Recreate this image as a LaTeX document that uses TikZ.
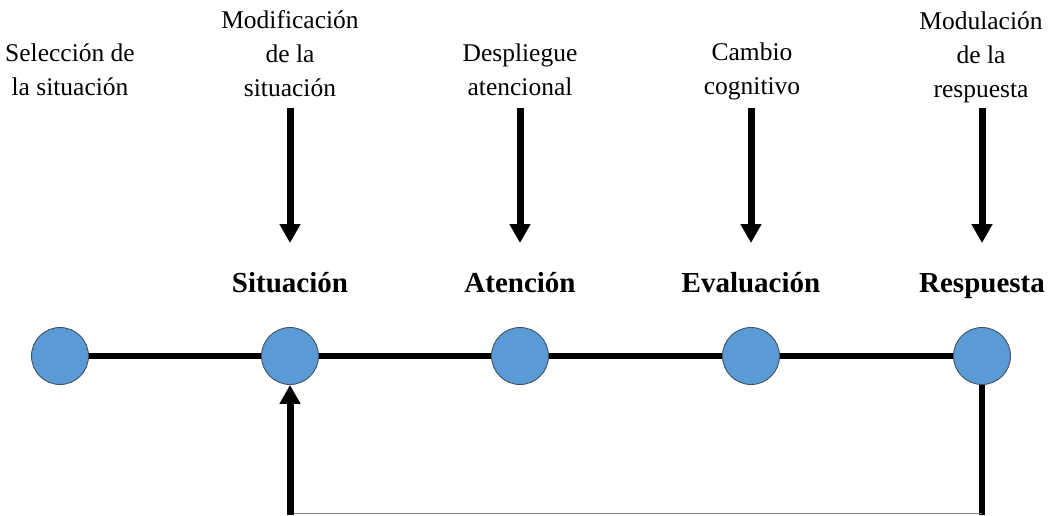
\documentclass[tikz,border=0pt]{standalone}
\usepackage{fontspec}
\setmainfont{Liberation Serif}
\usetikzlibrary{arrows.meta}
\definecolor{stageblue}{RGB}{91,155,213}
\definecolor{stageedge}{RGB}{65,80,95}
\begin{document}
\begin{tikzpicture}[x=1pt,y=-1pt,
  stage/.style={circle,minimum size=57pt,inner sep=0pt,fill=stageblue,draw=stageedge,line width=0.9pt},
  strategy/.style={align=center,font=\fontsize{25.5}{34}\selectfont,inner sep=0pt},
  phase/.style={anchor=base,font=\fontsize{29}{32}\selectfont\bfseries,inner sep=0pt},
  link/.style={line width=6.5pt},
  push/.style={line width=7pt,-{Triangle[width=20pt,length=19pt]}}]
\useasboundingbox (0,0) rectangle (1051,515);

% process stages
\node[stage] (c1) at (60,356) {};
\node[stage] (c2) at (290,356) {};
\node[stage] (c3) at (520,356) {};
\node[stage] (c4) at (751,356) {};
\node[stage] (c5) at (982,356) {};

% stage names
\node[phase] (p2) at (290,292) {Situación};
\node[phase] (p3) at (520,292) {Atención};
\node[phase] (p4) at (751,292) {Evaluación};
\node[phase] (p5) at (982,292) {Respuesta};

% regulation strategies
\node[strategy] (s1) at (70,70) {Selección de\\la situación};
\node[strategy] (s2) at (290,54) {Modificación\\de la\\situación};
\node[strategy] (s3) at (520,70) {Despliegue\\atencional};
\node[strategy] (s4) at (752,71) {Cambio\\cognitivo};
\node[strategy] (s5) at (981,57) {Modulación\\de la\\respuesta};

% timeline
\draw[link] (c1.east) -- (c2.west);
\draw[link] (c2.east) -- (c3.west);
\draw[link] (c3.east) -- (c4.west);
\draw[link] (c4.east) -- (c5.west);

% strategy arrows
\foreach \i/\x in {2/290,3/520,4/751,5/982}{
  \coordinate (t\i) at (\x,108);
  \coordinate (h\i) at (\x,243);
  \draw[push] (t\i) -- (h\i);
}

% feedback loop
\coordinate (fr) at (982,515);
\coordinate (fl) at (290,515);
\coordinate (gr) at (982,513);
\coordinate (gl) at (290,513);
\draw[line width=6pt] (c5.south) -- (fr);
\draw[gray,line width=1pt] (gl) -- (gr);
\draw[push] (fl) -- (c2.south);
\end{tikzpicture}
\end{document}
